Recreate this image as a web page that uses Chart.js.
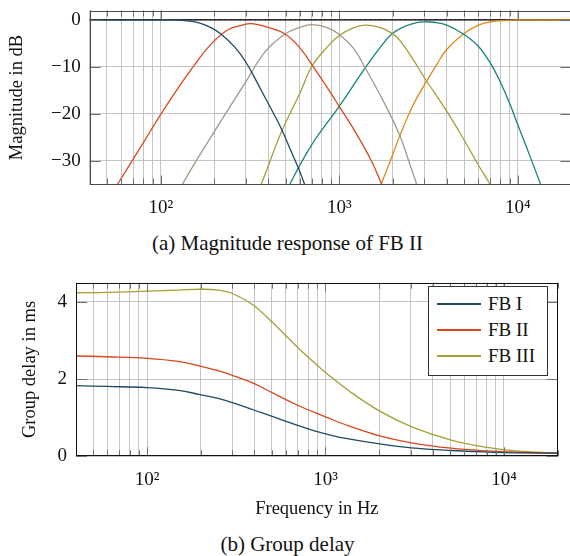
<!DOCTYPE html>
<html>
<head>
<meta charset="utf-8">
<script src="https://cdn.jsdelivr.net/npm/chart.js@4.4.1/dist/chart.umd.min.js"></script>
<style>
  html, body { margin: 0; padding: 0; background: #fff; }
  body { width: 570px; height: 556px; overflow: hidden; position: relative; font-family: "Liberation Serif", serif; color: #111; }
  #magWrap { position: absolute; left: 0; top: 0; }
  #delayWrap { position: absolute; left: 0; top: 270px; }
  .caption { position: absolute; left: 0; width: 575px; text-align: center; font-size: 21px; line-height: 24px; }
  #legend { position: absolute; left: 428px; top: 286px; width: 120px; height: 90px; border: 1px solid #333; background: #fff; box-sizing: border-box; }
  .item { position: absolute; left: 8px; height: 24px; font-size: 19px; line-height: 24px; }
  .item .sw { position: absolute; left: 0; top: 11px; width: 44px; height: 1.5px; }
  .item .lb { position: absolute; left: 51px; top: 0; white-space: nowrap; }
</style>
</head>
<body>
<div id="magWrap"><canvas id="mag" width="580" height="230"></canvas></div>
<div class="caption" style="top:231px">(a) Magnitude response of FB II</div>
<div id="delayWrap"><canvas id="delay" width="570" height="260"></canvas></div>
<div id="legend">
  <div class="item" style="top:5px"><span class="sw" style="background:#1f4a63"></span><span class="lb">FB I</span></div>
  <div class="item" style="top:31px"><span class="sw" style="background:#d8481c"></span><span class="lb">FB II</span></div>
  <div class="item" style="top:57px"><span class="sw" style="background:#a59f35"></span><span class="lb">FB III</span></div>
</div>
<div class="caption" style="top:532px">(b) Group delay</div>
<script>
// frequency axis, Hz
const freqMin = 40, freqMax = 20000;
const gridFreqs = [40, 50, 60, 70, 80, 90, 100, 200, 300, 400, 500, 600, 700, 800, 900,
  1000, 2000, 3000, 4000, 5000, 6000, 7000, 8000, 9000, 10000, 20000];
const decadeLabels = {100: '10²', 1000: '10³', 10000: '10⁴'};
const magTicks = [-30, -20, -10, 0];
const delayTicks = [0, 2, 4];

// (a) magnitude response of FB II, dB
const band1Freq = [40, 80, 115, 140, 162, 190, 219, 260, 300, 340, 384, 430, 476, 530, 590, 640, 700];
const band1Db = [0, 0, 0, -0.2, -0.6, -1.6, -3.1, -5.8, -9.0, -12.7, -16.5, -20.0, -23.3, -27.4, -31.5, -35, -39];
const band2Freq = [50, 57.2, 79.6, 100, 125, 155, 192, 238, 280, 324, 400, 497, 600, 702, 850, 1000, 1225, 1520, 1715, 1900];
const band2Db = [-38.5, -35, -26.2, -20.1, -14.5, -9.5, -5.1, -2.1, -1.2, -0.8, -1.6, -3.0, -5.9, -9.5, -14.2, -18.4, -23.7, -30.1, -34.7, -39];
const band3Freq = [115, 132, 200, 297, 384, 497, 600, 702, 850, 1000, 1200, 1397, 1807, 2191, 2450, 2718, 3000];
const band3Db = [-40, -35, -23.7, -13.4, -6.8, -3.0, -1.6, -1.0, -1.6, -3.1, -6.0, -10.2, -18.0, -24.7, -30.0, -35, -40];
const band4Freq = [320, 365, 476, 600, 702, 850, 1000, 1200, 1397, 1650, 1968, 2191, 2600, 3000, 4000, 5175, 6000, 6995, 7600];
const band4Db = [-40, -35, -23.7, -15.7, -9.9, -5.9, -3.3, -1.7, -1.1, -1.5, -2.8, -4.4, -8.5, -12.3, -19.4, -26.5, -30.8, -35, -38];
const band5Freq = [460, 528, 702, 1000, 1397, 1700, 1968, 2318, 2700, 3000, 3400, 4000, 4956, 6013, 6995, 7960, 9061, 10000, 11225, 13330, 14500];
const band5Db = [-40, -35, -26.5, -18.4, -10.2, -5.8, -3.0, -1.4, -0.6, -0.4, -0.5, -1.1, -3.0, -5.6, -9.1, -13.1, -18.0, -22.3, -27.2, -34.7, -39];
const band6Freq = [1550, 1716, 1968, 2190, 2600, 3000, 3515, 4000, 4956, 6013, 6995, 8700, 10000, 20000];
const band6Db = [-40, -35, -29.2, -24.5, -18.0, -13.8, -9.5, -6.3, -3.0, -1.1, -0.4, -0.1, 0, 0];
const sumFreq = [40, 20000];
const sumDb = [0, 0];

// (b) group delay, ms
const delayFreq = [40, 60, 100, 150, 198, 250, 301, 396, 512, 692, 877, 1000, 1350, 2014, 3020, 5065, 8073, 11640, 20000];
const fb1Delay = [1.83, 1.81, 1.78, 1.71, 1.60, 1.50, 1.39, 1.20, 1.02, 0.81, 0.65, 0.58, 0.45, 0.32, 0.22, 0.15, 0.11, 0.09, 0.08];
const fb2Delay = [2.60, 2.58, 2.54, 2.46, 2.34, 2.22, 2.10, 1.89, 1.63, 1.33, 1.13, 1.02, 0.79, 0.53, 0.35, 0.21, 0.14, 0.11, 0.08];
const fb3Delay = [4.24, 4.25, 4.28, 4.31, 4.33, 4.31, 4.22, 3.91, 3.44, 2.84, 2.40, 2.17, 1.70, 1.17, 0.77, 0.42, 0.23, 0.14, 0.08];

const pts = (xs, ys) => xs.map((x, i) => ({x: x, y: ys[i]}));
const serif = '"Liberation Serif", serif';
const gridGrey = '#c4c4c4';

// pgfplots style frame with inward ticks on all four sides
const frame = {
  id: 'frame',
  afterDatasetsDraw(chart, args, o) {
    const ctx = chart.ctx, a = chart.chartArea;
    const xs = chart.scales.x, ys = chart.scales.y;
    ctx.save();
    ctx.lineWidth = 1;
    ctx.strokeStyle = o.tickColor;
    ctx.beginPath();
    xs.ticks.forEach(t => {
      const p = Math.round(xs.getPixelForValue(t.value)) + 0.5;
      const len = decadeLabels[t.value] ? 9 : 6;
      ctx.moveTo(p, a.bottom); ctx.lineTo(p, a.bottom - len);
      ctx.moveTo(p, a.top); ctx.lineTo(p, a.top + len);
    });
    ys.ticks.forEach(t => {
      const p = Math.round(ys.getPixelForValue(t.value)) + 0.5;
      ctx.moveTo(a.left, p); ctx.lineTo(a.left + 11, p);
      ctx.moveTo(a.right, p); ctx.lineTo(a.right - 11, p);
    });
    ctx.stroke();
    ctx.strokeStyle = o.borderColor;
    ctx.strokeRect(Math.round(a.left) + 0.5, Math.round(a.top) + 0.5,
      Math.round(a.right) - Math.round(a.left) - 1, Math.round(a.bottom) - Math.round(a.top) - 1);
    ctx.restore();
  }
};

function freqAxis(height, title) {
  return {
    type: 'logarithmic', min: freqMin, max: freqMax,
    afterBuildTicks: s => { s.ticks = gridFreqs.map(v => ({value: v})); },
    afterFit: s => { s.height = height; s.paddingLeft = s.paddingRight = s.paddingTop = s.paddingBottom = 0; },
    grid: {color: gridGrey, lineWidth: 1, drawTicks: false},
    border: {display: false},
    ticks: {autoSkip: false, maxRotation: 0, padding: 12, color: '#111', font: {family: serif, size: 19},
      callback: v => decadeLabels[v] || ''},
    title: title ? {display: true, text: title, color: '#111', font: {family: serif, size: 18.5}, padding: {top: 0, bottom: 10}} : {display: false}
  };
}

function valueAxis(min, max, ticks, width, title, titlePad, fmt) {
  return {
    type: 'linear', min: min, max: max,
    afterBuildTicks: s => { s.ticks = ticks.map(v => ({value: v})); },
    afterFit: s => { s.width = width; s.paddingLeft = s.paddingRight = s.paddingTop = s.paddingBottom = 0; },
    grid: {color: gridGrey, lineWidth: 1, drawTicks: false},
    border: {display: false},
    ticks: {padding: 9, color: '#111', font: {family: serif, size: 19}, callback: fmt},
    title: {display: true, text: title, color: '#111', font: {family: serif, size: 18.5}, padding: {top: titlePad, bottom: 0}}
  };
}

function line(data, color, extra) {
  return Object.assign({data: data, borderColor: color, backgroundColor: color, borderWidth: 1.3,
    pointRadius: 0, fill: false, tension: 0.4}, extra || {});
}

new Chart(document.getElementById('mag'), {
  type: 'line',
  data: {
    datasets: [
      line(pts(band1Freq, band1Db), '#1f4a63'),
      line(pts(band2Freq, band2Db), '#d8481c'),
      line(pts(band3Freq, band3Db), '#a39888'),
      line(pts(band4Freq, band4Db), '#a59f35'),
      line(pts(band5Freq, band5Db), '#16847f'),
      line(pts(band6Freq, band6Db), '#df8a1a'),
      line(pts(sumFreq, sumDb), '#000000', {borderWidth: 1.4, tension: 0}),
      line(pts(sumFreq, sumDb), '#e0306a', {borderWidth: 1.2, borderDash: [1, 4], tension: 0})
    ]
  },
  options: {
    responsive: false, animation: false,
    layout: {padding: {top: 10.5, right: 8.5, left: 0, bottom: 0}},
    scales: {
      x: freqAxis(45.5, null),
      y: valueAxis(-35, 2, magTicks, 89.7, 'Magnitude in dB', 6, v => v < 0 ? '\u2212' + Math.abs(v) : String(v))
    },
    plugins: {legend: {display: false}, tooltip: {enabled: false},
      frame: {tickColor: '#707070', borderColor: '#4a4a4a'}}
  },
  plugins: [frame]
});

new Chart(document.getElementById('delay'), {
  type: 'line',
  data: {
    datasets: [
      line(pts(delayFreq, fb1Delay), '#1f4a63'),
      line(pts(delayFreq, fb2Delay), '#d8481c'),
      line(pts(delayFreq, fb3Delay), '#a59f35')
    ]
  },
  options: {
    responsive: false, animation: false,
    layout: {padding: {top: 12.7, right: 12.3, left: 0, bottom: 0}},
    scales: {
      x: freqAxis(73.7, 'Frequency in Hz'),
      y: valueAxis(0, 4.5, delayTicks, 76, 'Group delay in ms', 19, v => String(v))
    },
    plugins: {legend: {display: false}, tooltip: {enabled: false},
      frame: {tickColor: '#707070', borderColor: '#111111'}}
  },
  plugins: [frame]
});
</script>
</body>
</html>
